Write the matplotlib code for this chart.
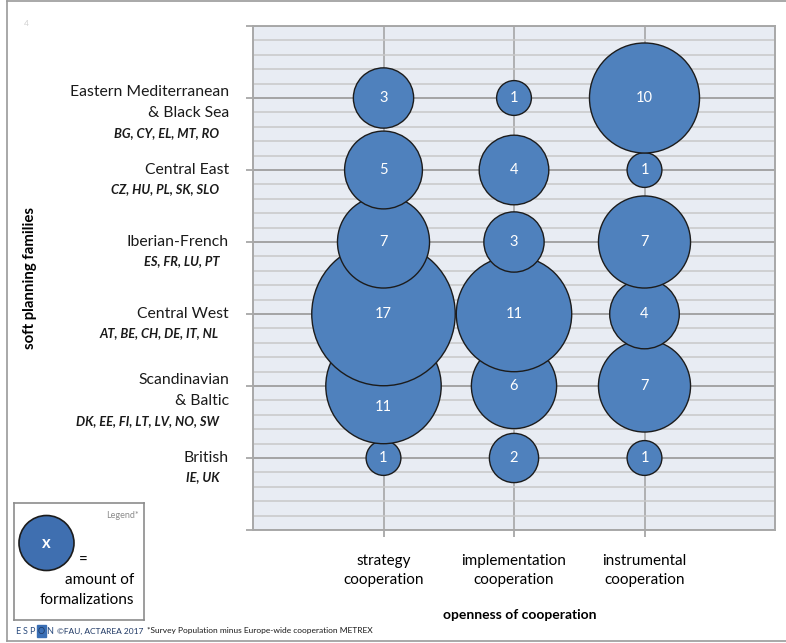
import numpy as np
import matplotlib
matplotlib.use("Agg")
from matplotlib import pyplot as plt
from matplotlib.patches import Circle, Rectangle
from matplotlib.lines import Line2D

plt.rcParams['font.family'] = ['Lato', 'DejaVu Sans']

# soft planning families, bottom to top
families = ['British', 'Scandinavian\n& Baltic', 'Central West', 'Iberian-French',
            'Central East', 'Eastern Mediterranean\n& Black Sea']
codes = ['IE, UK', 'DK, EE, FI, LT, LV, NO, SW', 'AT, BE, CH, DE, IT, NL',
         'ES, FR, LU, PT', 'CZ, HU, PL, SK, SLO', 'BG, CY, EL, MT, RO']
cooperation = ['strategy\ncooperation', 'implementation\ncooperation', 'instrumental\ncooperation']
strategy = [1, 11, 17, 7, 5, 3]
implementation = [2, 6, 11, 3, 4, 1]
instrumental = [1, 7, 4, 7, 1, 10]

W, H = 786, 643
fig = plt.figure(figsize=(W / 100, H / 100), dpi=100)

# outer frame (left, top, bottom)
for xs, ys in [([7, 7], [1, 641]), ([7, W], [1, 1]), ([7, W], [641, 641])]:
    fig.add_artist(Line2D([x / W for x in xs], [1 - y / H for y in ys],
                          color='#9a9a9a', lw=1.2))
fig.text(26 / W, 1 - 24 / H, '4', fontsize=6, color='#d0d0d0', ha='center', va='center')

ax = fig.add_axes([253 / W, 1 - 530 / H, (775 - 253) / W, (530 - 26) / H])
ax.set_facecolor('#e8ecf3')
ax.set_xlim(0, 4)
ax.set_ylim(0, 7)
ax.set_xticks([1, 2, 3])
ax.set_xticklabels(cooperation, fontsize=11, linespacing=1.5)
ax.set_yticks(np.arange(0, 8, 1))
ax.set_yticklabels([])
ax.set_yticks(np.arange(0, 7.01, 0.2), minor=True)
ax.tick_params(axis='y', which='major', length=5, color='#a0a0a0', width=1.2)
ax.tick_params(axis='y', which='minor', length=0)
ax.tick_params(axis='x', which='major', length=5, color='#a0a0a0', width=1.2, pad=12)
ax.grid(axis='y', which='minor', color='#c8c8c8', lw=1.1)
ax.grid(axis='y', which='major', color='#a4a4a4', lw=1.4)
ax.grid(axis='x', which='major', color='#a0a0a0', lw=1.1)
ax.set_axisbelow(True)
for s in ax.spines.values():
    s.set_color('#a8a8a8')
    s.set_linewidth(1.4)

# bubbles: area proportional to value, drawn row by row (upper rows on top)
series = [strategy, implementation, instrumental]
k = 17.4  # px radius per sqrt(value)
xs, ys, vs = [], [], []
for i in range(len(families)):
    for j, col in enumerate(series):
        xs.append(j + 1)
        ys.append(i + 1)
        vs.append(col[i])
vs = np.array(vs)
sizes = (2 * k * np.sqrt(vs) * 0.72) ** 2
ax.scatter(xs, ys, s=sizes, color='#4f81bd', edgecolors='#1c1c1c', linewidths=1.0,
           zorder=3, clip_on=False)

row_px = (530 - 26) / 7
for i in range(len(families)):
    for j, col in enumerate(series):
        dy = 0
        # label pushed down when the bubble above covers this one's centre
        if i + 1 < len(families) and k * np.sqrt(col[i + 1]) >= 0.95 * row_px:
            dy = -15
        ax.annotate(str(col[i]), (j + 1, i + 1), xytext=(0, dy), textcoords='offset points',
                    ha='center', va='center', color='white', fontsize=10.5, zorder=4)

# family labels
for i, (name, code) in enumerate(zip(families, codes)):
    n = name.count('\n') + 1
    ax.annotate(name, (-24 / 522, i + 1), xycoords=('axes fraction', 'data'),
                xytext=(0, -(n - 1) * 4.5 * 0.72), textcoords='offset points',
                ha='right', va='center', multialignment='right', fontsize=11.3,
                linespacing=1.6, color='#1a1a1a')
    ax.annotate(code, (-34 / 522, i + 1), xycoords=('axes fraction', 'data'),
                xytext=(0, -(19 + (n - 1) * 16) * 0.72), textcoords='offset points',
                ha='right', va='center', fontsize=9.3, fontweight='bold', fontstyle='italic',
                color='#1a1a1a')

fig.text(30 / W, 1 - 278 / H, 'soft planning families', rotation=90, fontsize=10.8,
         fontweight='bold', ha='center', va='center')
fig.text(520 / W, 1 - 615 / H, 'openness of cooperation', fontsize=10,
         fontweight='bold', ha='center', va='center')

# legend box
lg = fig.add_axes([14 / W, 1 - 620 / H, 130 / W, 117 / H])
lg.set_xlim(0, 130)
lg.set_ylim(117, 0)
lg.set_xticks([])
lg.set_yticks([])
for s in lg.spines.values():
    s.set_color('#8c8c8c')
    s.set_linewidth(1.2)
lg.add_patch(Circle((32.5, 40), 27.5, facecolor='#3f6fb0', edgecolor='#1c1c1c', lw=1.2))
lg.text(32.5, 40, 'x', color='white', fontsize=12, fontweight='bold', ha='center', va='center')
lg.text(125, 12, 'Legend*', color='#8c8c8c', fontsize=6.5, ha='right', va='center')
lg.text(69, 58, '=', fontsize=11, ha='center', va='center')
lg.text(120, 77, 'amount of', fontsize=11, ha='right', va='center')
lg.text(120, 97, 'formalizations', fontsize=11, ha='right', va='center')

# footer
fy = 1 - 631 / H
for ch, px in [('E', 18), ('S', 25), ('P', 32)]:
    fig.text(px / W, fy, ch, fontsize=6.5, color='#2b4c7e', va='center', ha='center')
fig.add_artist(Rectangle((37 / W, 1 - 637 / H), 9 / W, 12 / H, color='#3a6fb5',
                         transform=fig.transFigure))
fig.text(41.5 / W, fy, 'O', fontsize=6.5, color='#1f3a66', va='center', ha='center')
fig.text(50 / W, fy, 'N', fontsize=6.5, color='#2b4c7e', va='center', ha='center')
fig.text(57 / W, fy, '©FAU, ACTAREA 2017', fontsize=6, color='#1f3864', va='center')
fig.text(147 / W, fy, '*Survey Population minus Europe-wide cooperation METREX',
         fontsize=6, color='#1a1a1a', va='center')

fig.savefig('out.png', dpi=100)
